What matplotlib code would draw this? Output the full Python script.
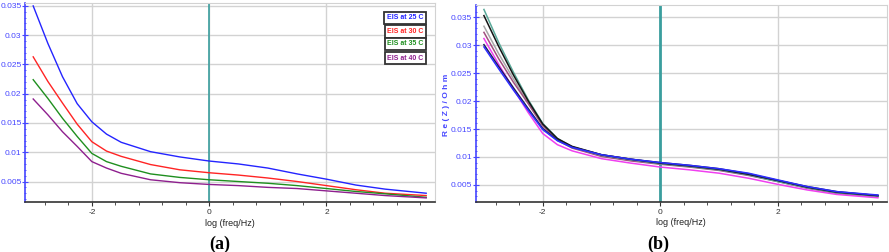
import matplotlib
matplotlib.use('Agg')
import matplotlib.pyplot as plt
from matplotlib.ticker import MultipleLocator, FuncFormatter

plt.rcParams['font.family'] = ['Liberation Sans', 'DejaVu Sans']
plt.rcParams['axes.unicode_minus'] = False

# log(freq/Hz) sample points
log_f = [-3.0, -2.75, -2.5, -2.25, -2.0, -1.75, -1.5, -1.0, -0.5, 0.0, 0.5, 1.0, 1.5, 2.0, 2.5, 3.0, 3.7]

# panel (a): Re(Z) at four temperatures
eis_25 = [0.0350, 0.0286, 0.0229, 0.0183, 0.0152, 0.0131, 0.0117, 0.0101, 0.0092, 0.0085, 0.0080, 0.0073, 0.0063, 0.0054, 0.0044, 0.0037, 0.0030]
eis_30 = [0.0263, 0.0221, 0.0184, 0.0148, 0.0118, 0.0102, 0.0093, 0.0079, 0.0070, 0.0065, 0.0061, 0.0056, 0.0050, 0.0043, 0.0036, 0.0030, 0.0026]
eis_35 = [0.0224, 0.0192, 0.0158, 0.0127, 0.0098, 0.0084, 0.0076, 0.0063, 0.0057, 0.0053, 0.0050, 0.0047, 0.0043, 0.0038, 0.0033, 0.0029, 0.0023]
eis_40 = [0.0191, 0.0164, 0.0135, 0.0110, 0.0084, 0.0073, 0.0064, 0.0053, 0.0048, 0.0045, 0.0043, 0.0040, 0.0038, 0.0034, 0.0030, 0.0026, 0.0022]
labels_a = ['EIS at 25 C', 'EIS at 30 C', 'EIS at 35 C', 'EIS at 40 C']

# panel (b): repeated runs
run_teal = [0.0364, 0.0305, 0.0252, 0.0203, 0.0160, 0.0133, 0.0118, 0.0103, 0.0095, 0.0088, 0.0083, 0.0077, 0.0068, 0.0056, 0.0045, 0.0036, 0.0030]
run_black = [0.0353, 0.0298, 0.0247, 0.0201, 0.0159, 0.0133, 0.0119, 0.0104, 0.0096, 0.0089, 0.0084, 0.0078, 0.0069, 0.0058, 0.0046, 0.0037, 0.0031]
run_gray = [0.0334, 0.0285, 0.0240, 0.0197, 0.0157, 0.0131, 0.0117, 0.0102, 0.0094, 0.0088, 0.0083, 0.0077, 0.0068, 0.0057, 0.0045, 0.0036, 0.0030]
run_mauve = [0.0323, 0.0276, 0.0234, 0.0196, 0.0156, 0.0130, 0.0116, 0.0101, 0.0093, 0.0087, 0.0082, 0.0076, 0.0067, 0.0056, 0.0044, 0.0035, 0.0029]
run_magenta = [0.0312, 0.0266, 0.0222, 0.0180, 0.0142, 0.0122, 0.0111, 0.0097, 0.0089, 0.0082, 0.0077, 0.0071, 0.0062, 0.0051, 0.0041, 0.0033, 0.0027]
run_navy = [0.0301, 0.0262, 0.0224, 0.0187, 0.0151, 0.0130, 0.0118, 0.0104, 0.0096, 0.0090, 0.0085, 0.0079, 0.0070, 0.0058, 0.0047, 0.0038, 0.0031]
run_blue = [0.0297, 0.0258, 0.0220, 0.0184, 0.0149, 0.0129, 0.0117, 0.0104, 0.0096, 0.0090, 0.0085, 0.0079, 0.0071, 0.0059, 0.0047, 0.0038, 0.0032]

AXIS_BLUE = '#4646ff'
GRID = '#d2d2d2'


def style_axes(ax, ylim, vline_w):
    ax.set_xlim(-3.14, 3.85)
    ax.set_ylim(*ylim)
    ax.xaxis.set_major_locator(MultipleLocator(2))
    ax.xaxis.set_minor_locator(MultipleLocator(0.4))
    ax.yaxis.set_major_locator(MultipleLocator(0.005))
    ax.yaxis.set_minor_locator(MultipleLocator(0.001))
    ax.yaxis.set_major_formatter(FuncFormatter(lambda v, p: ('%g' % round(v, 4))))
    ax.grid(True, which='major', color=GRID, linewidth=1.0)
    ax.set_axisbelow(True)
    for s in ('top', 'right'):
        ax.spines[s].set_color(GRID)
    ax.spines['left'].set_color(AXIS_BLUE)
    ax.spines['left'].set_linewidth(1.2)
    ax.spines['bottom'].set_color('#333333')
    ax.spines['bottom'].set_linewidth(1.2)
    ax.tick_params(axis='y', which='both', colors=AXIS_BLUE, labelsize=6, direction='inout', pad=0.5)
    ax.tick_params(axis='y', which='major', length=4)
    ax.tick_params(axis='y', which='minor', length=2)
    ax.tick_params(axis='x', which='both', colors='#333333', labelsize=6, direction='out', pad=2)
    ax.tick_params(axis='x', which='major', length=3)
    ax.tick_params(axis='x', which='minor', length=2)
    ax.set_xlabel('log (freq/Hz)', fontsize=6.5, color='#222222', labelpad=2)
    ax.axvline(0, color='#3a9e9e', linewidth=vline_w, zorder=1.5)


fig = plt.figure(figsize=(8.89, 2.52), dpi=100)
ax_a = fig.add_axes([0.0281, 0.1984, 0.4612, 0.7897])
ax_b = fig.add_axes([0.5351, 0.1996, 0.4623, 0.7806])

# panel (a)
style_axes(ax_a, (0.0015, 0.0355), 1.2)
colors_a = ['#2424ff', '#ff2424', '#1f8f1f', '#8e1f8e']
for series, c in zip([eis_25, eis_30, eis_35, eis_40], colors_a):
    ax_a.plot(log_f, series, color=c, linewidth=1.0)

box_y = [0.925, 0.858, 0.794, 0.723]
for lbl, c, y in zip(labels_a, colors_a, box_y):
    ax_a.text(0.928, y, lbl, transform=ax_a.transAxes, fontsize=5, color=c,
              ha='center', va='center', fontweight='bold',
              bbox=dict(boxstyle='square,pad=0.4', facecolor='white', edgecolor='#333333', linewidth=1.3))

# panel (b)
style_axes(ax_b, (0.002, 0.0372), 2.0)
runs_b = [run_gray, run_mauve, run_magenta, run_teal, run_black, run_navy, run_blue]
colors_b = ['#a8a8a8', '#a0507e', '#f040f0', '#5aaa9a', '#151515', '#1c1c5c', '#2e2eff']
for series, c in zip(runs_b, colors_b):
    ax_b.plot(log_f, series, color=c, linewidth=1.1)

fig.text(447 / 889, 0.585, 'R e ( Z ) / O h m', rotation=90, fontsize=6, color=AXIS_BLUE,
         fontweight='bold', ha='center', va='center')

# captions
fig.text(220 / 889, 1 - 236 / 252, '(a)', fontsize=13, fontweight='bold',
         family='Liberation Serif', ha='center', va='top')
fig.text(658 / 889, 1 - 236 / 252, '(b)', fontsize=13, fontweight='bold',
         family='Liberation Serif', ha='center', va='top')

fig.savefig('out.png', dpi=100)
